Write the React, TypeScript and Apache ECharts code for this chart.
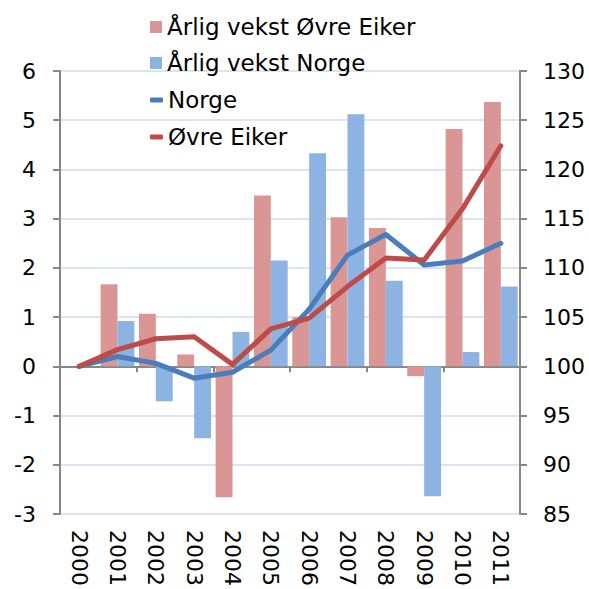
import React, { useEffect, useRef } from "react";
import * as echarts from "echarts";

const years = ["2000", "2001", "2002", "2003", "2004", "2005", "2006", "2007", "2008", "2009", "2010", "2011"];
const vekstEiker: (number | null)[] = [null, 1.67, 1.07, 0.24, -2.66, 3.47, 1.0, 3.03, 2.81, -0.2, 4.82, 5.37];
const vekstNorge: (number | null)[] = [null, 0.92, -0.71, -1.46, 0.7, 2.15, 4.33, 5.12, 1.74, -2.64, 0.29, 1.62];
const indexNorge = [100, 101.0, 100.3, 98.8, 99.4, 101.65, 105.8, 111.3, 113.4, 110.3, 110.7, 112.5];
const indexEiker = [100, 101.7, 102.8, 103.0, 100.2, 103.8, 104.9, 108.1, 111.0, 110.8, 116.0, 122.4];

const FONT = "'DejaVu Sans', 'Liberation Sans', Arial, sans-serif";
const AXIS_GREY = "#878787";
const GRID_BLUE = "#dbe5f1";

export default function App() {
  const ref = useRef<HTMLDivElement>(null);
  useEffect(() => {
    if (!ref.current) return;
    const chart = echarts.init(ref.current, undefined, { renderer: "svg" });
    chart.setOption({
      animation: false,
      backgroundColor: "#ffffff",
      textStyle: { fontFamily: FONT },
      grid: { left: 60, right: 69, top: 71, bottom: 73, containLabel: false },
      legend: [
        {
          orient: "vertical",
          left: 150,
          top: 15,
          padding: 0,
          itemGap: 12,
          itemWidth: 12,
          itemHeight: 12,
          icon: "rect",
          textStyle: { fontSize: 23, color: "#000", fontFamily: FONT, lineHeight: 24 },
          data: ["Årlig vekst Øvre Eiker", "Årlig vekst Norge"],
        },
        {
          orient: "vertical",
          left: 150,
          top: 88,
          padding: 0,
          itemGap: 13,
          itemWidth: 13,
          itemHeight: 5,
          icon: "roundRect",
          textStyle: { fontSize: 23, color: "#000", fontFamily: FONT, lineHeight: 24 },
          data: ["Norge", "Øvre Eiker"],
        },
      ],
      xAxis: [
        {
          type: "category",
          data: years,
          position: "bottom",
          axisLine: { show: false, onZero: false },
          axisTick: { show: false },
          axisLabel: { rotate: -90, margin: 16, fontSize: 22, color: "#000", fontFamily: FONT },
          splitLine: { show: false },
        },
        {
          type: "category",
          data: years,
          position: "bottom",
          axisLine: { show: true, onZero: true, lineStyle: { color: AXIS_GREY, width: 2 } },
          axisTick: { show: true, length: 6, inside: false, lineStyle: { color: AXIS_GREY, width: 2 } },
          axisLabel: { show: false },
          splitLine: { show: false },
        },
      ],
      yAxis: [
        {
          type: "value",
          min: -3,
          max: 6,
          interval: 1,
          position: "left",
          axisLine: { show: true, lineStyle: { color: AXIS_GREY, width: 2 } },
          axisTick: { show: true, length: 7, lineStyle: { color: AXIS_GREY, width: 2 } },
          axisLabel: { fontSize: 22, color: "#000", margin: 24, fontFamily: FONT },
          splitLine: { show: true, lineStyle: { color: GRID_BLUE, width: 2 } },
        },
        {
          type: "value",
          min: 85,
          max: 130,
          interval: 5,
          position: "right",
          axisLine: { show: true, lineStyle: { color: AXIS_GREY, width: 2 } },
          axisTick: { show: true, length: 7, lineStyle: { color: AXIS_GREY, width: 2 } },
          axisLabel: { fontSize: 22, color: "#000", margin: 23, fontFamily: FONT },
          splitLine: { show: false },
        },
      ],
      series: [
        {
          name: "Årlig vekst Øvre Eiker",
          type: "bar",
          xAxisIndex: 0,
          yAxisIndex: 0,
          data: vekstEiker,
          barGap: "0%",
          barCategoryGap: "12%",
          itemStyle: { color: "#d99694" },
        },
        {
          name: "Årlig vekst Norge",
          type: "bar",
          xAxisIndex: 0,
          yAxisIndex: 0,
          data: vekstNorge,
          barGap: "0%",
          barCategoryGap: "12%",
          itemStyle: { color: "#8db3e2" },
        },
        {
          name: "Norge",
          type: "line",
          xAxisIndex: 0,
          yAxisIndex: 1,
          data: indexNorge,
          symbol: "none",
          z: 3,
          itemStyle: { color: "#4a7ebb" },
          lineStyle: { color: "#4a7ebb", width: 5, cap: "round", join: "round" },
        },
        {
          name: "Øvre Eiker",
          type: "line",
          xAxisIndex: 0,
          yAxisIndex: 1,
          data: indexEiker,
          symbol: "none",
          z: 4,
          itemStyle: { color: "#be4b48" },
          lineStyle: { color: "#be4b48", width: 5, cap: "round", join: "round" },
        },
      ],
    });
    return () => chart.dispose();
  }, []);
  return (
    <div
      ref={ref}
      style={{ position: "absolute", left: 0, top: 0, width: 589, height: 589, background: "#fff" }}
    />
  );
}
